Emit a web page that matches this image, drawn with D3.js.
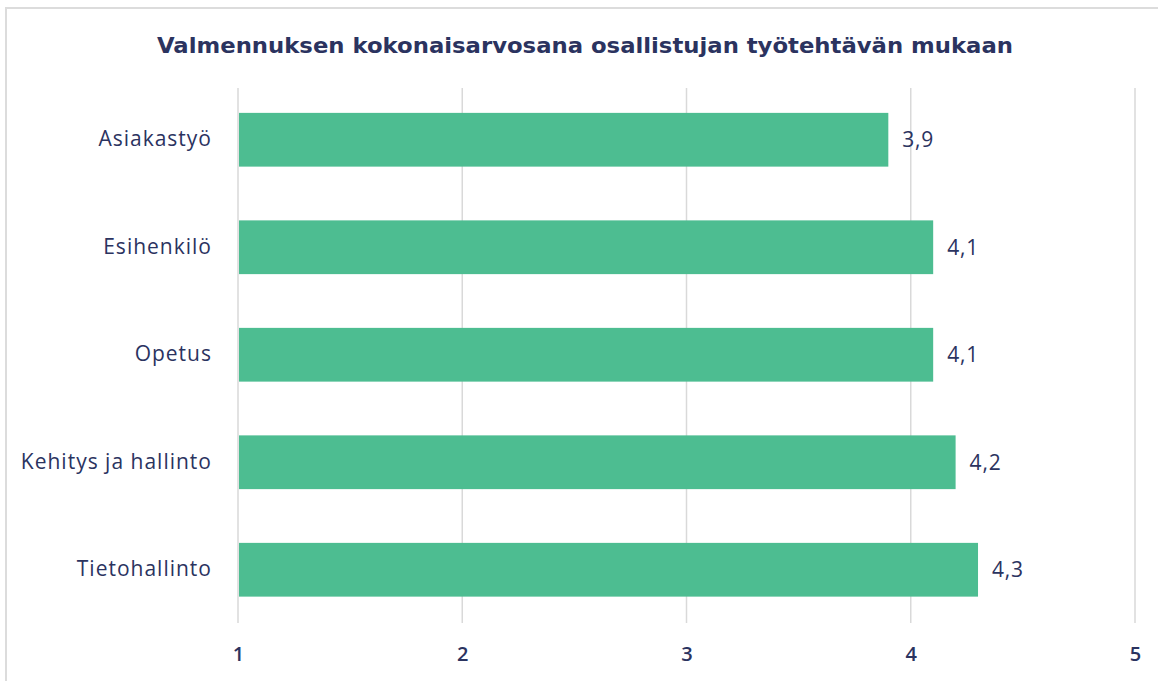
<!DOCTYPE html>
<html>
<head>
<meta charset="utf-8">
<script src="https://cdn.jsdelivr.net/npm/d3@7"></script>
<style>
  html, body { margin: 0; padding: 0; background: #fff; }
  svg { display: block; }
</style>
</head>
<body>
<div id="chart"></div>
<script>
// data
const titleText = "Valmennuksen kokonaisarvosana osallistujan työtehtävän mukaan";
const categories = ["Asiakastyö", "Esihenkilö", "Opetus", "Kehitys ja hallinto", "Tietohallinto"];
const values = [3.9, 4.1, 4.1, 4.2, 4.3];
const tickValues = [1, 2, 3, 4, 5];

const width = 1158, height = 681;
const navy = "#2b335f";
const labelFont = "'Open Sans', Lato, sans-serif";

const svg = d3.select("#chart").append("svg")
  .attr("width", width)
  .attr("height", height);

// light frame (left and top edge)
svg.append("rect")
  .attr("x", 6).attr("y", 8)
  .attr("width", width + 10).attr("height", height + 10)
  .attr("fill", "none")
  .attr("stroke", "#dcdcdc")
  .attr("stroke-width", 2);

const x = d3.scaleLinear().domain([1, 5]).range([238, 1135]);
const y = d3.scaleBand().domain(categories).range([86, 623.5])
  .paddingInner(0.5).paddingOuter(0.25);

// title
svg.append("text")
  .attr("x", 585).attr("y", 53)
  .attr("text-anchor", "middle")
  .attr("font-family", "'DejaVu Sans', 'Noto Sans', sans-serif")
  .attr("font-weight", 700)
  .attr("font-size", 21)
  .attr("textLength", 856)
  .attr("lengthAdjust", "spacingAndGlyphs")
  .attr("fill", navy)
  .text(titleText);

// gridlines
svg.append("g").selectAll("line")
  .data(tickValues)
  .join("line")
  .attr("x1", d => x(d)).attr("x2", d => x(d))
  .attr("y1", 88).attr("y2", 623)
  .attr("stroke", "#d9d9d9")
  .attr("stroke-width", 1.5);

// bars
svg.append("g").selectAll("rect")
  .data(categories)
  .join("rect")
  .attr("x", x(1) + 1)
  .attr("y", d => y(d))
  .attr("width", (d, i) => x(values[i]) - x(1) - 1)
  .attr("height", y.bandwidth())
  .attr("fill", "#4dbd91");

// value labels
svg.append("g").selectAll("text")
  .data(categories)
  .join("text")
  .attr("x", (d, i) => x(values[i]) + 14)
  .attr("y", d => y(d) + y.bandwidth() / 2)
  .attr("dy", "0.35em")
  .attr("font-family", labelFont)
  .attr("font-size", 21)
  .attr("letter-spacing", 0.8)
  .attr("fill", navy)
  .text((d, i) => d3.format(".1f")(values[i]).replace(".", ","));

// category axis
const yAxis = svg.append("g")
  .attr("transform", `translate(${x(1) - 26},0)`)
  .call(d3.axisLeft(y).tickSize(0).tickPadding(0));
yAxis.select(".domain").remove();
yAxis.selectAll("text")
  .attr("font-family", labelFont)
  .attr("font-size", 21)
  .attr("letter-spacing", 1)
  .attr("fill", navy);

// value axis
const xAxis = svg.append("g")
  .attr("transform", "translate(0,647)")
  .call(d3.axisBottom(x).tickValues(tickValues).tickFormat(d3.format("d"))
    .tickSize(0).tickPadding(0));
xAxis.select(".domain").remove();
xAxis.selectAll("text")
  .attr("dy", "0.71em")
  .attr("font-family", labelFont)
  .attr("font-weight", 600)
  .attr("font-size", 20)
  .attr("fill", navy);
</script>
</body>
</html>
